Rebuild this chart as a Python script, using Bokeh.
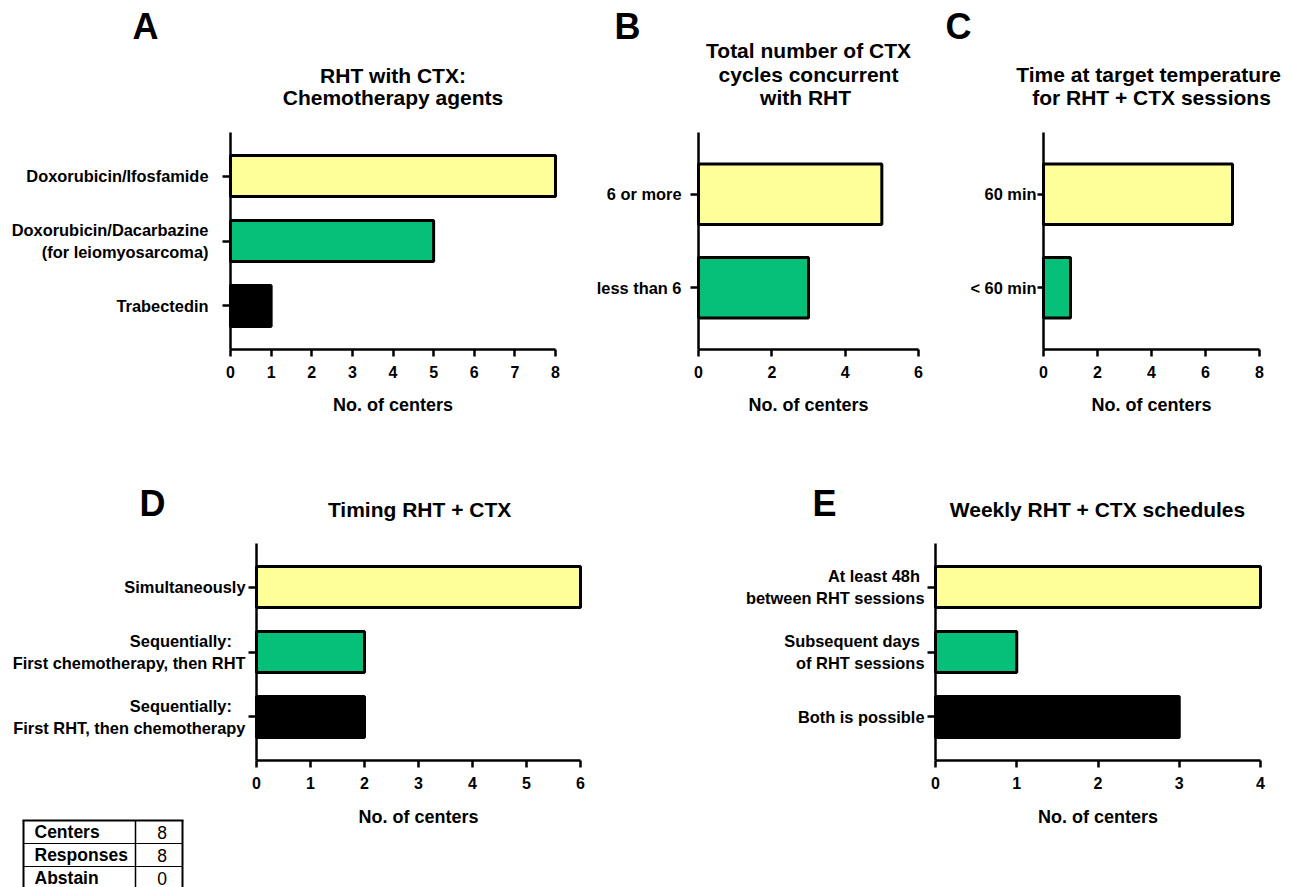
from bokeh.plotting import figure
from bokeh.models import Range1d, FixedTicker, Label, ColumnDataSource
from bokeh.layouts import row, column
from bokeh.embed import file_html
from bokeh.resources import INLINE
from bokeh.core.properties import value

FONT = "Liberation Sans"
YELLOW = "#FFFF99"
GREEN = "#06BF78"
BLACK = "#000000"

# ---------------- data ----------------
a_cats = ["Doxorubicin/Ifosfamide", "Doxorubicin/Dacarbazine\n(for leiomyosarcoma)", "Trabectedin"]
a_vals = [8, 5, 1]
a_xticks = [0, 1, 2, 3, 4, 5, 6, 7, 8]
a_title = ["RHT with CTX:", "Chemotherapy agents"]

b_cats = ["6 or more", "less than 6"]
b_vals = [5, 3]
b_xticks = [0, 2, 4, 6]
b_title = ["Total number of CTX", "cycles concurrent", "with  RHT"]

c_cats = ["60 min", "< 60 min"]
c_vals = [7, 1]
c_xticks = [0, 2, 4, 6, 8]
c_title = ["Time at  target temperature", "for RHT + CTX sessions"]

d_cats = ["Simultaneously", "Sequentially:   \nFirst chemotherapy, then RHT",
          "Sequentially:   \nFirst RHT, then chemotherapy"]
d_vals = [6, 2, 2]
d_xticks = [0, 1, 2, 3, 4, 5, 6]
d_title = ["Timing RHT +  CTX"]

e_cats = ["At least 48h \nbetween RHT sessions", "Subsequent days \nof RHT sessions", "Both is possible"]
e_vals = [4, 1, 3]
e_xticks = [0, 1, 2, 3, 4]
e_title = ["Weekly RHT + CTX schedules"]

bar_colors = [YELLOW, GREEN, BLACK]
x_label = "No. of centers"

table_labels = ["Centers", "Responses", "Abstain"]
table_values = ["8", "8", "0"]


def make_panel(cats, vals, xticks, ox, oy, W, H, FL, FT, FB, tick_end, bar_h, ypad,
               ytick_out, ystandoff, letter, letter_sx, letter_cy,
               titles, title_sx, title_cys, xlabel_standoff):
    n = len(cats)
    xmax = xticks[-1]
    ppu = (tick_end - FL) / xmax
    ybot, ytop = -ypad, n - 1 + ypad
    upx = (FB - FT) / (ytop - ybot)
    xr = Range1d((ox - FL) / ppu, (ox + W - FL) / ppu)
    yr = Range1d(ybot - (oy + H - FB) / upx, ytop + (FT - oy) / upx)
    p = figure(width=W, height=H, x_range=xr, y_range=yr,
               output_backend="svg", toolbar_location=None, title=None,
               min_border=0, min_border_left=0, min_border_right=0,
               min_border_top=0, min_border_bottom=0)
    p.xgrid.visible = False
    p.ygrid.visible = False
    p.outline_line_color = None
    p.background_fill_color = "white"
    p.border_fill_color = "white"

    ypos = list(range(n - 1, -1, -1))
    src = ColumnDataSource(dict(y=ypos, right=vals, left=[0] * n, color=bar_colors[:n]))
    p.hbar(y="y", left="left", right="right", height=bar_h, fill_color="color",
           line_color="black", line_width=3, source=src)

    xa = p.xaxis[0]
    xa.fixed_location = ybot
    xa.ticker = FixedTicker(ticks=xticks)
    xa.bounds = (0, xmax)
    xa.axis_label = x_label
    xa.axis_label_text_font = FONT
    xa.axis_label_text_font_style = "bold"
    xa.axis_label_text_font_size = "18px"
    xa.axis_label_text_color = "black"
    xa.axis_label_standoff = xlabel_standoff
    xa.major_label_text_font = FONT
    xa.major_label_text_font_style = "bold"
    xa.major_label_text_font_size = "16px"
    xa.major_label_text_color = "black"
    xa.major_label_standoff = 9
    xa.major_tick_out = 7
    xa.major_tick_in = 0
    xa.major_tick_line_width = 2.5
    xa.axis_line_width = 2.5
    xa.minor_tick_line_color = None

    ya = p.yaxis[0]
    ya.fixed_location = 0
    ya.bounds = (ybot, ytop)
    ya.ticker = FixedTicker(ticks=ypos)
    ya.major_label_overrides = {pos: cat for pos, cat in zip(ypos, cats)}
    ya.major_label_text_font = FONT
    ya.major_label_text_font_style = "bold"
    ya.major_label_text_font_size = "16.4px"
    ya.major_label_text_color = "black"
    ya.major_label_standoff = ystandoff
    ya.major_tick_out = ytick_out
    ya.major_tick_in = 0
    ya.major_tick_line_width = 2.5
    ya.axis_line_width = 2.5
    ya.minor_tick_line_color = None

    def dx(sx):
        return (sx - FL) / ppu

    def dy(sy):
        return ybot + (FB - sy) / upx

    p.add_layout(Label(x=dx(letter_sx), y=dy(letter_cy), text=letter, text_align="center",
                       text_baseline="alphabetic", text_font=FONT, text_font_style="bold",
                       text_font_size="36px", text_color="black"))
    for t, c in zip(titles, title_cys):
        p.add_layout(Label(x=dx(title_sx), y=dy(c), text=t, text_align="center",
                           text_baseline="alphabetic", text_font=FONT, text_font_style="bold",
                           text_font_size="21px", text_color="black"))
    return p


pA = make_panel(a_cats, a_vals, a_xticks, 0, 0, 580, 440, 230, 132, 349, 555, 0.63, 0.67,
                8, 14, "A", 145, 26, a_title, 392.5, [75, 97], 14)
pB = make_panel(b_cats, b_vals, b_xticks, 580, 0, 355, 440, 698, 132, 349, 918, 0.645, 0.66,
                8, 9, "B", 627, 26, b_title, 808, [50, 73.5, 97], 14)
pC = make_panel(c_cats, c_vals, c_xticks, 935, 0, 360, 440, 1043, 132, 349, 1259, 0.645, 0.66,
                6, 1, "C", 958, 26, c_title, 1151, [73.5, 97], 14)
pD = make_panel(d_cats, d_vals, d_xticks, 0, 440, 700, 447, 256, 543, 760, 580, 0.63, 0.67,
                8, 3, "D", 152, 502.5, d_title, 422, [508.5], 15)
pE = make_panel(e_cats, e_vals, e_xticks, 700, 440, 595, 447, 935, 543, 760, 1260, 0.63, 0.67,
                8, 3, "E", 824, 503, e_title, 1097, [508.5], 15)

# ---------------- table (inside panel D, in page pixel units) ----------------
pD.extra_x_ranges = {"tx": Range1d(0, 700)}
pD.extra_y_ranges = {"ty": Range1d(887, 440)}
tx0, tx1, tx2 = 23, 135, 182
ty0, row_h = 820, 23
nrow = len(table_labels)
row_lines = [ty0 + i * row_h for i in range(1, nrow)]
row_mid = [ty0 + i * row_h + row_h / 2 for i in range(nrow)]
pD.segment(x0=[tx0, tx2], y0=[ty0, ty0], x1=[tx0, tx2], y1=[900, 900], line_color="black",
           line_width=2, x_range_name="tx", y_range_name="ty")
pD.segment(x0=[tx1], y0=[ty0], x1=[tx1], y1=[900], line_color="black", line_width=1.5,
           x_range_name="tx", y_range_name="ty")
pD.segment(x0=[tx0 - 1], y0=[ty0], x1=[tx2 + 1], y1=[ty0], line_color="black", line_width=2,
           x_range_name="tx", y_range_name="ty")
pD.segment(x0=[tx0] * (nrow - 1), y0=row_lines, x1=[tx2] * (nrow - 1), y1=row_lines,
           line_color="black", line_width=1.2, x_range_name="tx", y_range_name="ty")
pD.text(x=[tx0 + 11] * nrow, y=row_mid, text=table_labels, text_baseline="middle", text_align="left",
        text_font=value(FONT), text_font_style="bold", text_font_size="17.5px", text_color="black",
        x_range_name="tx", y_range_name="ty")
pD.text(x=[(tx1 + tx2) / 2 + 3] * nrow, y=row_mid, text=table_values, text_baseline="middle",
        text_align="center", text_font=value(FONT), text_font_style="normal",
        text_font_size="17.5px", text_color="black", x_range_name="tx", y_range_name="ty")

layout = column(row(pA, pB, pC), row(pD, pE))
open("out.html", "w").write(file_html(layout, INLINE))
